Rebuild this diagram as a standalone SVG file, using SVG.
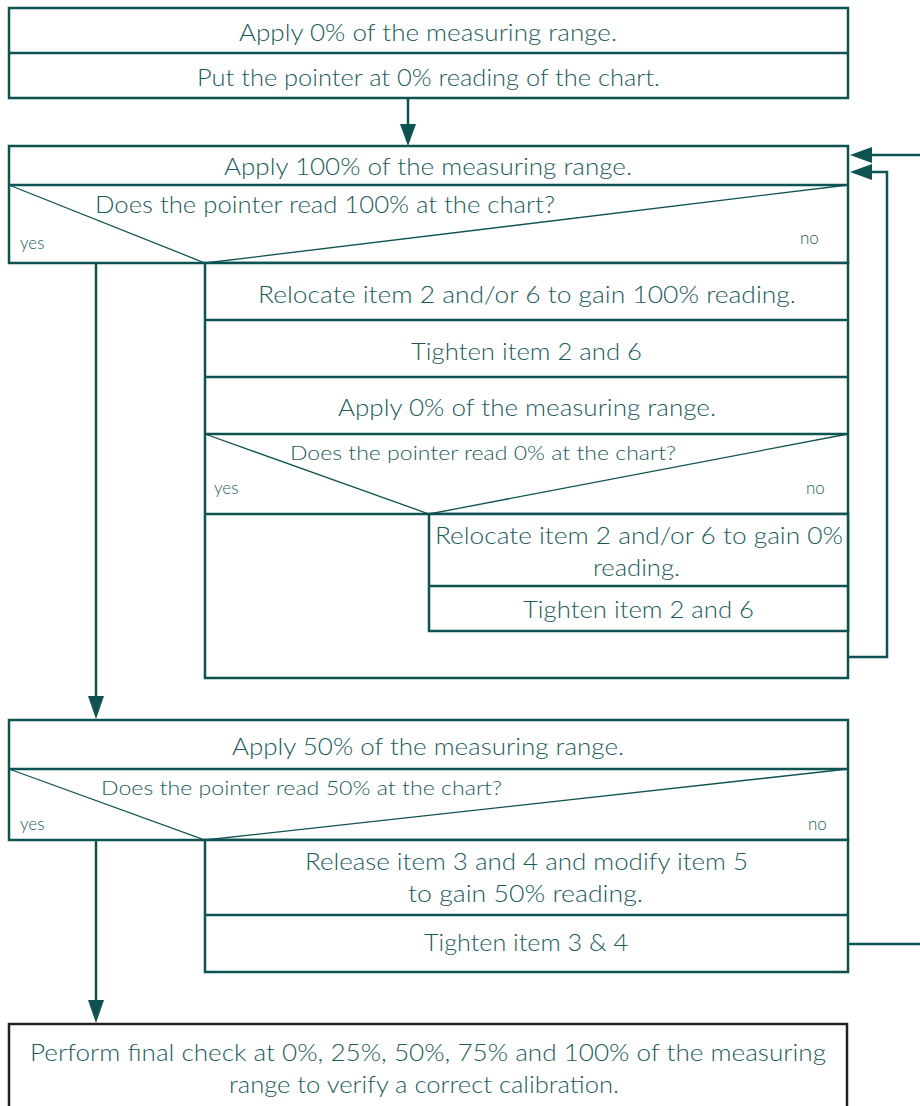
<svg xmlns="http://www.w3.org/2000/svg" width="920" height="1106" viewBox="0 0 920 1106">
<defs>
<style>
.b{fill:#fff;stroke:#0f5252;stroke-width:2.5}
.l{stroke:#0f5252;stroke-width:2.5;fill:none}
.t{fill:none;stroke:#0f5252;stroke-width:1.3}
.c{stroke:#0f5252;stroke-width:2.5;fill:none}
.h{fill:#0f5252}
text{font-family:Lato,"Noto Sans",sans-serif;font-weight:300;fill:#1c5c5c}
.m{font-size:23px;text-anchor:middle}
.q{font-size:20px;text-anchor:middle}
.s{font-size:17px}
</style>
</defs>
<g id="connectors">
<line class="c" x1="408" y1="98" x2="408" y2="126"/>
<path class="h" d="M400,124 L416,124 L408,146 Z"/>
<line class="c" x1="96" y1="263" x2="96" y2="698"/>
<path class="h" d="M88,696 L104,696 L96,719 Z"/>
<line class="c" x1="96" y1="840" x2="96" y2="1002"/>
<path class="h" d="M88,1000 L104,1000 L96,1023 Z"/>
<polyline class="c" points="848,657 887,657 887,172 870,172"/>
<path class="h" d="M850,172 L872,164 L872,180 Z"/>
<line class="c" x1="920" y1="155" x2="870" y2="155"/>
<path class="h" d="M850,155 L872,147 L872,163 Z"/>
<line class="c" x1="848" y1="944" x2="920" y2="944"/>
</g>
<g id="n1">
<rect class="b" x="9" y="8" width="839" height="90"/>
<line class="l" x1="9" y1="53" x2="848" y2="53"/>
<text class="m" x="428" y="41" textLength="378" lengthAdjust="spacingAndGlyphs">Apply 0% of the measuring range.</text>
<text class="m" x="428.5" y="86" textLength="463" lengthAdjust="spacingAndGlyphs">Put the pointer at 0% reading of the chart.</text>
</g>
<g id="n2">
<rect class="b" x="9" y="146" width="839" height="117"/>
<line class="l" x1="9" y1="185" x2="848" y2="185"/>
<polyline class="t" points="9,185 205,263 848,185"/>
<text class="m" x="428" y="175" textLength="408" lengthAdjust="spacingAndGlyphs">Apply 100% of the measuring range.</text>
<text class="m" x="325" y="213" textLength="460" lengthAdjust="spacingAndGlyphs">Does the pointer read 100% at the chart?</text>
<text class="s" x="20" y="249">yes</text>
<text class="s" x="800" y="244">no</text>
</g>
<g id="n3">
<rect class="b" x="205" y="263" width="643" height="415"/>
<line class="l" x1="205" y1="320" x2="848" y2="320"/>
<line class="l" x1="205" y1="377" x2="848" y2="377"/>
<line class="l" x1="205" y1="434" x2="848" y2="434"/>
<line class="l" x1="205" y1="514" x2="848" y2="514"/>
<polyline class="t" points="205,434 429,514 848,434"/>
<text class="m" x="527" y="303" textLength="538" lengthAdjust="spacingAndGlyphs">Relocate item 2 and/or 6 to gain 100% reading.</text>
<text class="m" x="526.5" y="360" textLength="231" lengthAdjust="spacingAndGlyphs">Tighten item 2 and 6</text>
<text class="m" x="527" y="416" textLength="378" lengthAdjust="spacingAndGlyphs">Apply 0% of the measuring range.</text>
<text class="q" x="483" y="460" textLength="386" lengthAdjust="spacingAndGlyphs">Does the pointer read 0% at the chart?</text>
<text class="s" x="214" y="494">yes</text>
<text class="s" x="806" y="494">no</text>
</g>
<g id="n4">
<rect class="b" x="429" y="514" width="419" height="117"/>
<line class="l" x1="429" y1="586" x2="848" y2="586"/>
<text class="m" x="639" y="544" textLength="408" lengthAdjust="spacingAndGlyphs">Relocate item 2 and/or 6 to gain 0%</text>
<text class="m" x="636.5" y="576" textLength="87" lengthAdjust="spacingAndGlyphs">reading.</text>
<text class="m" x="638.5" y="618" textLength="231" lengthAdjust="spacingAndGlyphs">Tighten item 2 and 6</text>
</g>
<g id="n5">
<rect class="b" x="9" y="720" width="839" height="120"/>
<line class="l" x1="9" y1="769" x2="848" y2="769"/>
<polyline class="t" points="9,769 205,840 848,769"/>
<text class="m" x="428" y="755" textLength="392" lengthAdjust="spacingAndGlyphs">Apply 50% of the measuring range.</text>
<text class="q" x="301.5" y="795" textLength="401" lengthAdjust="spacingAndGlyphs">Does the pointer read 50% at the chart?</text>
<text class="s" x="20" y="830">yes</text>
<text class="s" x="808" y="830">no</text>
</g>
<g id="n6">
<rect class="b" x="205" y="840" width="643" height="132"/>
<line class="l" x1="205" y1="915" x2="848" y2="915"/>
<text class="m" x="526.5" y="870" textLength="443" lengthAdjust="spacingAndGlyphs">Release item 3 and 4 and modify item 5</text>
<text class="m" x="525.5" y="902" textLength="235" lengthAdjust="spacingAndGlyphs">to gain 50% reading.</text>
<text class="m" x="526" y="951" textLength="204" lengthAdjust="spacingAndGlyphs">Tighten item 3 &amp; 4</text>
</g>
<g id="n7">
<rect x="9" y="1024" width="838" height="100" fill="#fff" stroke="#222" stroke-width="2.5"/>
<text class="m" x="428" y="1061" textLength="796" lengthAdjust="spacingAndGlyphs">Perform final check at 0%, 25%, 50%, 75% and 100% of the measuring</text>
<text class="m" x="424" y="1093" textLength="390" lengthAdjust="spacingAndGlyphs">range to verify a correct calibration.</text>
</g>
</svg>
